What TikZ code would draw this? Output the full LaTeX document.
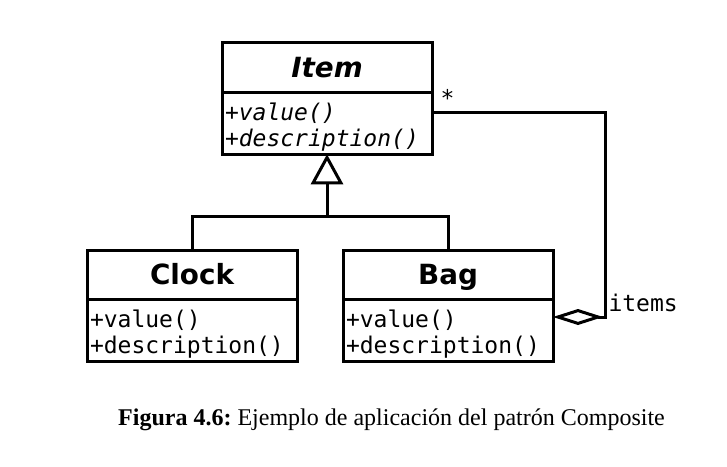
\documentclass[tikz,border=0pt]{standalone}
\usepackage{fontspec}
\setmainfont{Liberation Serif}
\newfontfamily\umlsans{DejaVu Sans}
\newfontfamily\umlmono{DejaVu Sans Mono}
\usepackage{tikz}
\usetikzlibrary{arrows.meta,positioning,calc}
\tikzset{classname/.style={draw, line width=1.5pt, outer sep=0pt, minimum width=105pt, minimum height=24.75pt,
inner sep=0pt, text height=10pt, text depth=0pt, font=\umlsans\bfseries\fontsize{13.9}{16}\selectfont},
classops/.style={draw, line width=1.5pt, outer sep=0pt, text width=102pt, inner xsep=1.5pt, inner ysep=0pt,
minimum height=31pt, align=left, anchor=north, execute at begin node={\rule{0pt}{12.6pt}},
font=\umlmono\fontsize{11.5}{13}\selectfont},
uml line/.style={line width=1.5pt},
uml label/.style={inner sep=0pt, anchor=base west, font=\umlmono\fontsize{11.5}{13}\selectfont}}

\begin{document}
\begin{tikzpicture}[x=0.5pt,y=-0.5pt]
        \useasboundingbox (0,0) rectangle (727,466);
        \node[classname] (item) at (327, 67.5) {\itshape Item};
        \node[classops] (itemops) at (item.south) {\itshape +value()\\+description()};
        \node[classname] (clock) at (192, 274.75) {Clock};
        \node[classops] (clockops) at (clock.south) {+value()\\+description()};
        \node[classname] (bag) at (448, 274.75) {Bag};
        \node[classops] (bagops) at (bag.south) {+value()\\+description()};

        \coordinate (join) at (327, 216);
        \coordinate (top) at (605, 112);
        \coordinate (bot) at (605, 317);

        \draw[uml line] (clock.north) |- (join) -| (bag.north);
        \draw[uml line, -{Triangle[open, length=15pt, width=16pt]}] (join) -- (itemops.south);
        \draw[uml line, -{Diamond[open, length=25pt, width=8pt]}]
              (itemops.east |- top) node[uml label, xshift=3.5pt, yshift=3pt]{*}
              -- (top) -- (bot) node[uml label, xshift=1pt, yshift=3pt]{items}
              -- (bagops.east |- bot);

        \node[font=\fontsize{12}{14}\selectfont\frenchspacing] (caption) at (391.5, 420)
              {\textbf{Figura 4.6:} Ejemplo de aplicación del patrón Composite};
    \end{tikzpicture}
\end{document}
